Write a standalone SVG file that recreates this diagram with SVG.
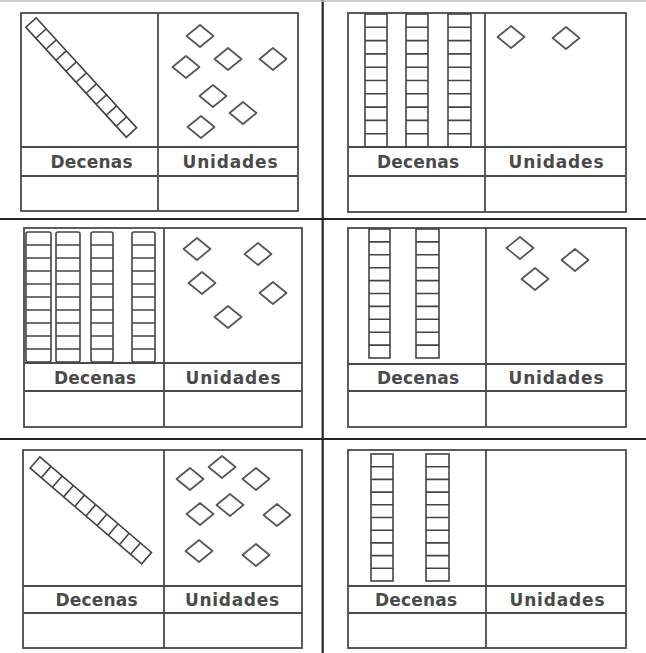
<svg xmlns="http://www.w3.org/2000/svg" xmlns:xlink="http://www.w3.org/1999/xlink" width="646" height="653" viewBox="0 0 646 653">
<style>
.frame{stroke:#262626;stroke-width:2.2;fill:none}
.box{stroke:#4a4a4a;stroke-width:1.8;fill:none}
.rod{stroke:#444;stroke-width:1.6;fill:none}
.dia{stroke:#555;stroke-width:1.7;fill:none;stroke-linejoin:round}
.lbl{font-family:"DejaVu Sans","Liberation Sans",sans-serif;font-size:17px;font-weight:bold;fill:#4a4a4a;text-anchor:middle}
</style>
<defs>
<polygon id="d" class="dia" points="-13.5,0 0,-11 13.5,0 0,11"/>
</defs>
<rect width="646" height="653" fill="#fff"/>
<g id="frame">
<line class="frame" x1="322.7" y1="0" x2="322.7" y2="653"/>
<line class="frame" x1="0" y1="219" x2="646" y2="219"/>
<line class="frame" x1="0" y1="439" x2="646" y2="439"/>
<line x1="0" y1="1" x2="646" y2="1" stroke="#bbb" stroke-width="1.5"/>
</g>

<g id="panel1">
<rect class="box" x="21" y="13" width="277" height="198"/>
<line class="box" x1="158" y1="13" x2="158" y2="211"/>
<line class="box" x1="21" y1="147" x2="298" y2="147"/>
<line class="box" x1="21" y1="176" x2="298" y2="176"/>
<g transform="translate(31,22.5) rotate(47.6)">
<rect class="rod" x="0" y="-7" width="149" height="14"/>
<path class="rod" d="M14.9,-7v14M29.8,-7v14M44.7,-7v14M59.6,-7v14M74.5,-7v14M89.4,-7v14M104.3,-7v14M119.2,-7v14M134.1,-7v14"/>
</g>
<use xlink:href="#d" x="200" y="36"/>
<use xlink:href="#d" x="228" y="59"/>
<use xlink:href="#d" x="273" y="59"/>
<use xlink:href="#d" x="186" y="67"/>
<use xlink:href="#d" x="213" y="96"/>
<use xlink:href="#d" x="243" y="113"/>
<use xlink:href="#d" x="201" y="127"/>
<text class="lbl" x="91.5" y="168" textLength="82" lengthAdjust="spacing">Decenas</text>
<text class="lbl" x="230" y="168" textLength="95" lengthAdjust="spacing">Unidades</text>
</g>

<g id="panel2">
<rect class="box" x="348" y="13" width="278" height="199"/>
<line class="box" x1="485" y1="13" x2="485" y2="212"/>
<line class="box" x1="348" y1="147" x2="626" y2="147"/>
<line class="box" x1="348" y1="176" x2="626" y2="176"/>
<g class="rod">
<rect x="365" y="14" width="22" height="133"/>
<rect x="406" y="14" width="22" height="133"/>
<rect x="448" y="14" width="23" height="133"/>
<path d="M365,27.3h22M365,40.6h22M365,53.9h22M365,67.2h22M365,80.5h22M365,93.8h22M365,107.1h22M365,120.4h22M365,133.7h22"/>
<path d="M406,27.3h22M406,40.6h22M406,53.9h22M406,67.2h22M406,80.5h22M406,93.8h22M406,107.1h22M406,120.4h22M406,133.7h22"/>
<path d="M448,27.3h23M448,40.6h23M448,53.9h23M448,67.2h23M448,80.5h23M448,93.8h23M448,107.1h23M448,120.4h23M448,133.7h23"/>
</g>
<use xlink:href="#d" x="511" y="37"/>
<use xlink:href="#d" x="566" y="38"/>
<text class="lbl" x="418" y="168" textLength="82" lengthAdjust="spacing">Decenas</text>
<text class="lbl" x="556" y="168" textLength="95" lengthAdjust="spacing">Unidades</text>
</g>

<g id="panel3">
<rect class="box" x="24" y="228" width="278" height="199"/>
<line class="box" x1="164" y1="228" x2="164" y2="427"/>
<line class="box" x1="24" y1="363" x2="302" y2="363"/>
<line class="box" x1="24" y1="391" x2="302" y2="391"/>
<g class="rod">
<rect x="26" y="232" width="25" height="130" rx="2"/>
<rect x="56" y="232" width="24" height="130" rx="2"/>
<rect x="91" y="232" width="22" height="130" rx="2"/>
<rect x="132" y="232" width="23" height="130" rx="2"/>
<path d="M26,245h25M26,258h25M26,271h25M26,284h25M26,297h25M26,310h25M26,323h25M26,336h25M26,349h25"/>
<path d="M56,245h24M56,258h24M56,271h24M56,284h24M56,297h24M56,310h24M56,323h24M56,336h24M56,349h24"/>
<path d="M91,245h22M91,258h22M91,271h22M91,284h22M91,297h22M91,310h22M91,323h22M91,336h22M91,349h22"/>
<path d="M132,245h23M132,258h23M132,271h23M132,284h23M132,297h23M132,310h23M132,323h23M132,336h23M132,349h23"/>
</g>
<use xlink:href="#d" x="197" y="249"/>
<use xlink:href="#d" x="258" y="254"/>
<use xlink:href="#d" x="202" y="283"/>
<use xlink:href="#d" x="273" y="293"/>
<use xlink:href="#d" x="228" y="317"/>
<text class="lbl" x="95" y="384" textLength="82" lengthAdjust="spacing">Decenas</text>
<text class="lbl" x="233" y="384" textLength="95" lengthAdjust="spacing">Unidades</text>
</g>

<g id="panel4">
<rect class="box" x="348" y="228" width="278" height="199"/>
<line class="box" x1="486" y1="228" x2="486" y2="427"/>
<line class="box" x1="348" y1="364" x2="626" y2="364"/>
<line class="box" x1="348" y1="391" x2="626" y2="391"/>
<g class="rod">
<rect x="369" y="229" width="21" height="129"/>
<rect x="416" y="229" width="23" height="129"/>
<path d="M369,241.9h21M369,254.8h21M369,267.7h21M369,280.6h21M369,293.5h21M369,306.4h21M369,319.3h21M369,332.2h21M369,345.1h21"/>
<path d="M416,241.9h23M416,254.8h23M416,267.7h23M416,280.6h23M416,293.5h23M416,306.4h23M416,319.3h23M416,332.2h23M416,345.1h23"/>
</g>
<use xlink:href="#d" x="520" y="248"/>
<use xlink:href="#d" x="575" y="260"/>
<use xlink:href="#d" x="535" y="279"/>
<text class="lbl" x="418" y="384" textLength="82" lengthAdjust="spacing">Decenas</text>
<text class="lbl" x="556" y="384" textLength="95" lengthAdjust="spacing">Unidades</text>
</g>

<g id="panel5">
<rect class="box" x="23" y="450" width="279" height="198"/>
<line class="box" x1="164" y1="450" x2="164" y2="648"/>
<line class="box" x1="23" y1="586" x2="302" y2="586"/>
<line class="box" x1="23" y1="613" x2="302" y2="613"/>
<g transform="translate(35,462.5) rotate(40.6)">
<rect class="rod" x="0" y="-7.5" width="147" height="15"/>
<path class="rod" d="M14.7,-7.5v15M29.4,-7.5v15M44.1,-7.5v15M58.8,-7.5v15M73.5,-7.5v15M88.2,-7.5v15M102.9,-7.5v15M117.6,-7.5v15M132.3,-7.5v15"/>
</g>
<use xlink:href="#d" x="190" y="479"/>
<use xlink:href="#d" x="222" y="467"/>
<use xlink:href="#d" x="256" y="479"/>
<use xlink:href="#d" x="200" y="514"/>
<use xlink:href="#d" x="230" y="505"/>
<use xlink:href="#d" x="277" y="515"/>
<use xlink:href="#d" x="199" y="551"/>
<use xlink:href="#d" x="256" y="555"/>
<text class="lbl" x="96.5" y="606" textLength="82" lengthAdjust="spacing">Decenas</text>
<text class="lbl" x="232" y="606" textLength="94" lengthAdjust="spacing">Unidades</text>
</g>

<g id="panel6">
<rect class="box" x="348" y="450" width="278" height="198"/>
<line class="box" x1="486" y1="450" x2="486" y2="648"/>
<line class="box" x1="348" y1="586" x2="626" y2="586"/>
<line class="box" x1="348" y1="613" x2="626" y2="613"/>
<g class="rod">
<rect x="371" y="454" width="22" height="127"/>
<rect x="426" y="454" width="23" height="127"/>
<path d="M371,466.7h22M371,479.4h22M371,492.1h22M371,504.8h22M371,517.5h22M371,530.2h22M371,542.9h22M371,555.6h22M371,568.3h22"/>
<path d="M426,466.7h23M426,479.4h23M426,492.1h23M426,504.8h23M426,517.5h23M426,530.2h23M426,542.9h23M426,555.6h23M426,568.3h23"/>
</g>
<text class="lbl" x="416" y="606" textLength="82" lengthAdjust="spacing">Decenas</text>
<text class="lbl" x="557" y="606" textLength="95" lengthAdjust="spacing">Unidades</text>
</g>
</svg>
